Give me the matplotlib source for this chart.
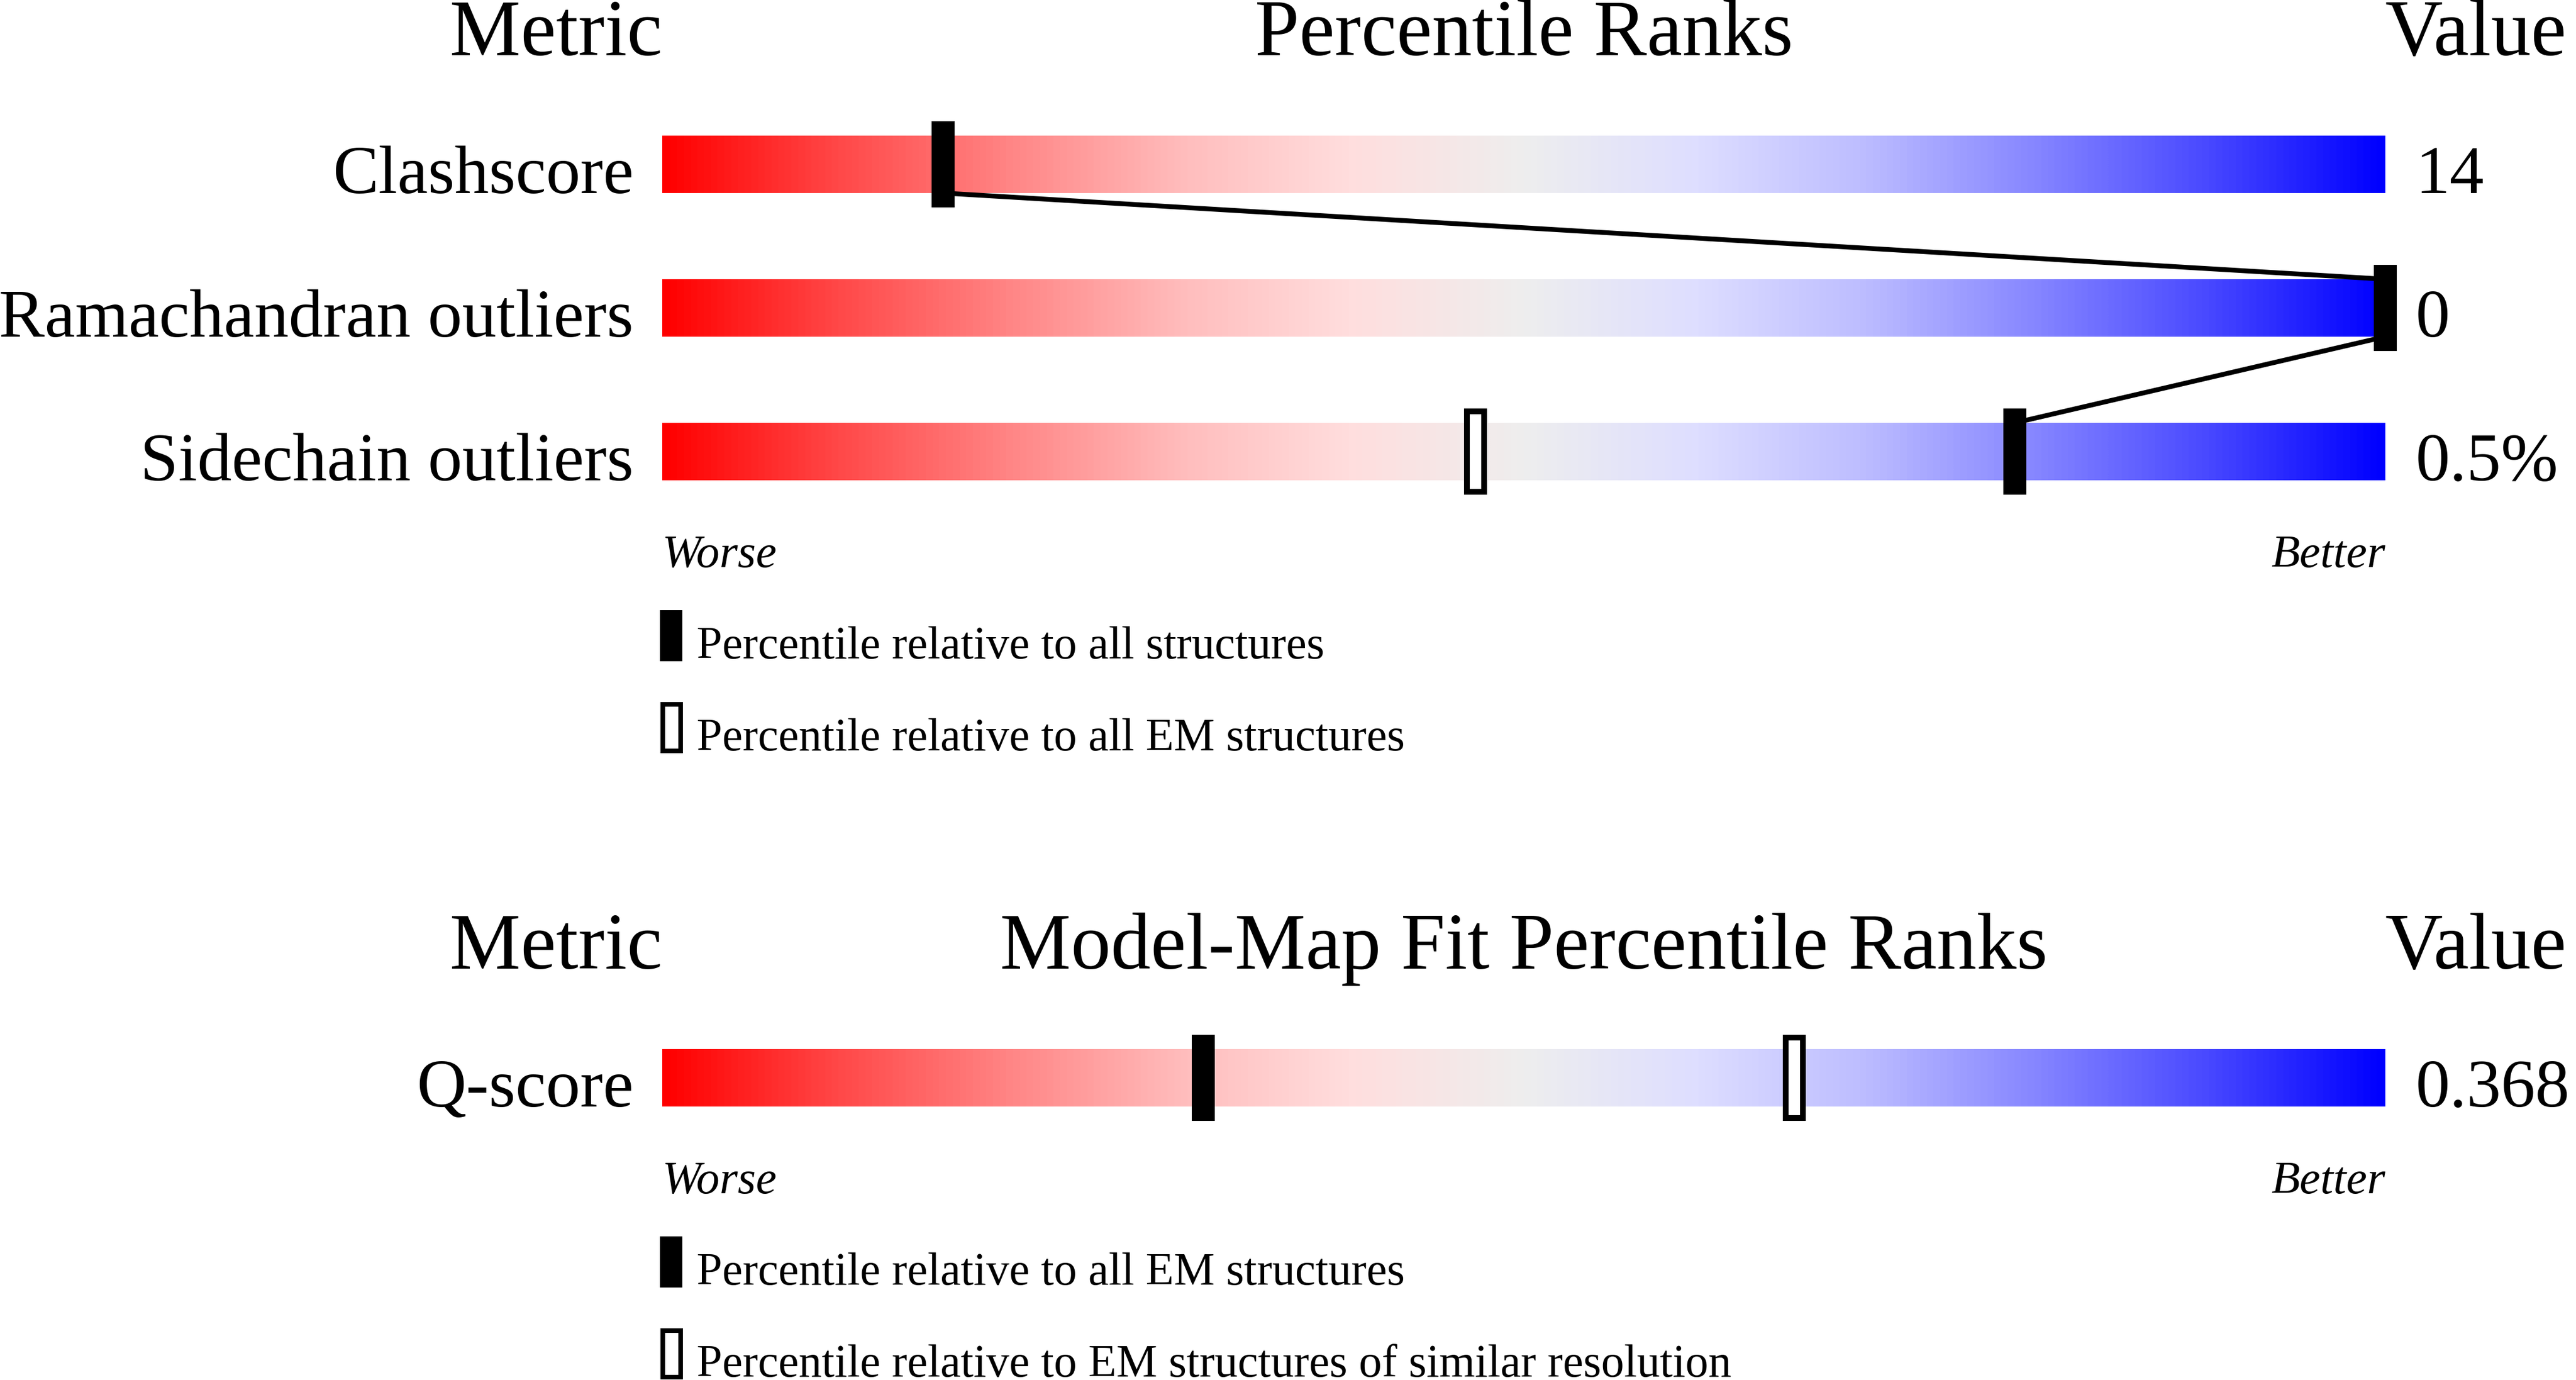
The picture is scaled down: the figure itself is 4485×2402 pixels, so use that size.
import numpy as np
import matplotlib
matplotlib.use("Agg")
import matplotlib.pyplot as plt
from matplotlib.colors import LinearSegmentedColormap
from matplotlib.patches import Rectangle

plt.rcParams['font.family'] = ['Liberation Serif', 'DejaVu Serif']

# --- data ---
geo_metrics = ['Clashscore', 'Ramachandran outliers', 'Sidechain outliers']
geo_values = ['14', '0', '0.5%']
geo_pct_all = [16.3, 100.0, 78.5]          # filled markers
geo_pct_em = [None, None, 47.2]            # open markers
geo_legend = ['Percentile relative to all structures',
              'Percentile relative to all EM structures']

fit_metrics = ['Q-score']
fit_values = ['0.368']
fit_pct_em = [31.4]                        # filled marker
fit_pct_res = [65.7]                       # open marker
fit_legend = ['Percentile relative to all EM structures',
              'Percentile relative to EM structures of similar resolution']

# gradient stops (position, colour)
grad_pos = [0.0, 0.1, 0.2, 0.3, 0.4, 0.5, 0.6, 0.7, 0.8, 0.9, 1.0]
grad_col = ['#ff0000', '#ff4848', '#ff8585', '#ffbcbc', '#ffdede', '#eeeeee',
            '#dedeff', '#bcbcff', '#8585ff', '#4848ff', '#0000ff']

# --- layout (pixels) ---
W, H = 4485, 2402
BAR_X0, BAR_W = 1153, 3000
PX = 100.0 / BAR_W                     # percentile units per pixel
BAR_H, ROW_STEP = 100, 250
MK_W, MK_H = 40, 150

fig = plt.figure(figsize=(W / 100, H / 100), dpi=100)
ax = fig.add_axes([0, 0, 1, 1])
ax.axis('off')

cmap = LinearSegmentedColormap.from_list('slider', list(zip(grad_pos, grad_col)), N=256)
grad = np.linspace(0, 1, 512).reshape(1, -1)


def marker(p, top, filled):
    if filled:
        ax.add_patch(Rectangle((p - MK_W / 2 * PX, top - 25), MK_W * PX, MK_H,
                               facecolor='black', edgecolor='none', zorder=5))
    else:
        b = 10
        ax.add_patch(Rectangle((p - (MK_W - b) / 2 * PX, top - 25 + b / 2),
                               (MK_W - b) * PX, MK_H - b, facecolor='white',
                               edgecolor='black', linewidth=b * 0.72, zorder=5))


def panel(y_head, title, names, values, pct_a, pct_b, legend, connect):
    ax.text(0, y_head, 'Metric', ha='right', va='baseline', fontsize=100)
    ax.text(50, y_head, title, ha='center', va='baseline', fontsize=100)
    ax.text(100, y_head, 'Value', ha='left', va='baseline', fontsize=100)
    tops = []
    for i, name in enumerate(names):
        top = y_head + 140 + i * ROW_STEP
        bot = top + BAR_H
        tops.append(top)
        ax.imshow(grad, cmap=cmap, extent=(0, 100, bot, top), aspect='auto',
                  interpolation='bilinear', zorder=1)
        ax.text(-50 * PX, bot, name, ha='right', va='baseline', fontsize=86)
        ax.text(100 + 52 * PX, bot, values[i], ha='left', va='baseline', fontsize=86)
        if pct_a[i] is not None:
            marker(pct_a[i], top, True)
        if pct_b[i] is not None:
            marker(pct_b[i], top, False)
    if connect:
        for i in range(len(names) - 1):
            ax.plot([pct_a[i], pct_a[i + 1]], [tops[i] + BAR_H, tops[i + 1]],
                    color='black', linewidth=6, solid_capstyle='butt', zorder=4)
    y_w = tops[-1] + BAR_H + 151
    ax.text(0, y_w, 'Worse', ha='left', va='baseline', fontsize=58.5, style='italic')
    ax.text(100, y_w, 'Better', ha='right', va='baseline', fontsize=58.5, style='italic')
    for k, lab in enumerate(legend):
        r_top = y_w + 75 + k * 160
        if k == 0:
            ax.add_patch(Rectangle((-4 * PX, r_top), 39 * PX, 89,
                                   facecolor='black', edgecolor='none'))
        else:
            ax.add_patch(Rectangle((0.5 * PX, r_top + 4), 31 * PX, 81,
                                   facecolor='white', edgecolor='black', linewidth=8 * 0.72))
        ax.text(60 * PX, r_top + 84, lab, ha='left', va='baseline', fontsize=57.6)


panel(96, 'Percentile Ranks', geo_metrics, geo_values, geo_pct_all, geo_pct_em,
      geo_legend, True)
panel(1686, 'Model-Map Fit Percentile Ranks', fit_metrics, fit_values, fit_pct_em,
      fit_pct_res, fit_legend, False)

ax.set_xlim(-BAR_X0 * PX, (W - BAR_X0) * PX)
ax.set_ylim(H, 0)

fig.savefig('out.png', dpi=100, facecolor='white')
